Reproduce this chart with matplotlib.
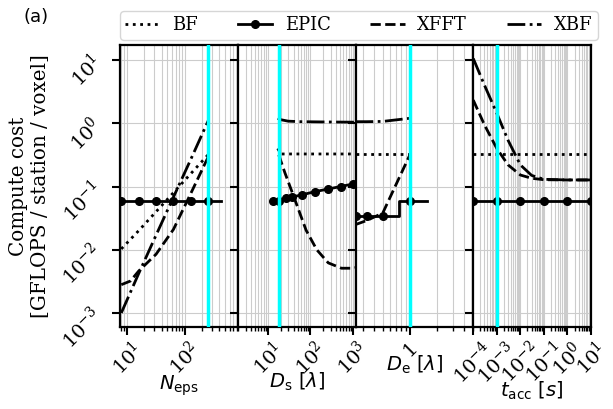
import matplotlib
matplotlib.use("Agg")
import matplotlib.pyplot as plt
from matplotlib.ticker import LogLocator, NullFormatter, NullLocator, FixedLocator, FixedFormatter

plt.rcParams['font.family'] = ['DejaVu Serif']
plt.rcParams['mathtext.fontset'] = 'dejavusans'

# ---- data ----
# panel 1: N_eps
neps_x = [8, 16, 32, 64, 128, 256]
neps_bf = [0.0103, 0.020, 0.040, 0.080, 0.16, 0.32]
neps_epic_x = [8, 16, 32, 64, 128, 256, 420]
neps_epic = [0.058, 0.058, 0.058, 0.058, 0.058, 0.058, 0.058]
neps_xfft_x = [8, 11.5, 16, 32, 64, 128, 256]
neps_xfft = [0.0028, 0.0032, 0.0046, 0.0085, 0.021, 0.078, 0.295]
neps_xbf = [0.001, 0.0042, 0.017, 0.068, 0.27, 1.1]
neps_ref = 256

# panel 2: D_s
ds_bf_x = [17, 20, 1300]
ds_bf = [0.40, 0.327, 0.327]
ds_epic_x = [13, 18, 27, 36, 64, 128, 256, 512, 1024, 1300]
ds_epic = [0.060, 0.058, 0.066, 0.068, 0.074, 0.083, 0.091, 0.10, 0.11, 0.113]
ds_xfft_x = [18, 25, 40, 79, 141, 263, 537, 1000, 1300]
ds_xfft = [0.316, 0.166, 0.071, 0.0204, 0.010, 0.0062, 0.0051, 0.0051, 0.0053]
ds_xbf_x = [17, 20, 30, 60, 200, 1300]
ds_xbf = [1.2, 1.14, 1.08, 1.06, 1.05, 1.04]
ds_ref = 18

# panel 3: D_e
de_x = [0.25, 0.333, 0.5, 1.0]
de_bf = [0.327, 0.327, 0.327, 0.327]
de_epic_x = [0.25, 0.333, 0.5, 1.0, 1.56]
de_epic = [0.0336, 0.0336, 0.0336, 0.058, 0.058]
de_xfft = [0.025, 0.029, 0.038, 0.32]
de_xbf = [1.06, 1.06, 1.07, 1.2]
de_ref = 1.0

# panel 4: t_acc
tacc_x = [1e-4, 1e-3, 1e-2, 1e-1, 1, 10]
tacc_bf = [0.327, 0.327, 0.327, 0.327, 0.327, 0.327]
tacc_epic = [0.058, 0.058, 0.058, 0.058, 0.058, 0.058]
tacc_dense_x = [1e-4, 3e-4, 1e-3, 3e-3, 1e-2, 3e-2, 1e-1, 1, 10]
tacc_xfft = [2.33, 0.94, 0.40, 0.22, 0.152, 0.135, 0.128, 0.127, 0.127]
tacc_xbf = [10.6, 4.0, 1.44, 0.54, 0.22, 0.15, 0.13, 0.127, 0.127]
tacc_ref = 1e-3

xlabels = [r'$N_\mathrm{eps}$', r'$D_\mathrm{s}\ [\lambda]$', r'$D_\mathrm{e}\ [\lambda]$', r'$t_\mathrm{acc}\ [s]$']
xlims = [(7.6, 830), (1.95, 1150), (0.25, 5.0), (1e-4, 1e1)]
label_tops = [373, 371, 354, 380]

W, H = 613, 409
fig = plt.figure(figsize=(W / 100, H / 100), dpi=100)
left, right, top, bottom = 120, 591, 45, 327
pw = (right - left) / 4

lw = 2.0
ms = 5.5
styles = dict(
    bf=dict(color='black', ls=':', lw=lw),
    epic=dict(color='black', ls='-', lw=lw, marker='o', ms=ms),
    xfft=dict(color='black', ls='--', lw=lw),
    xbf=dict(color='black', ls='-.', lw=lw),
)

axes = []
for i in range(4):
    ax = fig.add_axes([(left + i * pw) / W, 1 - bottom / H, pw / W, (bottom - top) / H])
    axes.append(ax)

panels = [
    (neps_x, neps_bf, neps_epic_x, neps_epic, neps_xfft_x, neps_xfft, neps_x, neps_xbf, neps_ref, dict(markevery=list(range(6)))),
    (ds_bf_x, ds_bf, ds_epic_x, ds_epic, ds_xfft_x, ds_xfft, ds_xbf_x, ds_xbf, ds_ref, dict(markevery=list(range(9)))),
    (de_x, de_bf, de_epic_x, de_epic, de_x, de_xfft, de_x, de_xbf, de_ref, dict(markevery=list(range(4)), drawstyle='steps-mid')),
    (tacc_x, tacc_bf, tacc_x, tacc_epic, tacc_dense_x, tacc_xfft, tacc_dense_x, tacc_xbf, tacc_ref, dict()),
]

for i, (ax, p) in enumerate(zip(axes, panels)):
    bx, by, ex, ey, fx, fy, xx, xy, ref, ekw = p
    ax.set_xscale('log')
    ax.set_yscale('log')
    l1, = ax.plot(bx, by, label='BF', **styles['bf'])
    l2, = ax.plot(ex, ey, label='EPIC', **styles['epic'], **ekw)
    l3, = ax.plot(fx, fy, label='XFFT', **styles['xfft'])
    l4, = ax.plot(xx, xy, label='XBF', **styles['xbf'])
    ax.axvline(ref, color='#00ffff', lw=2.5, zorder=5)
    ax.set_xlim(*xlims[i])
    ax.set_ylim(6.0e-4, 17.3)
    ax.yaxis.set_major_locator(LogLocator(base=10, numticks=10))
    ax.yaxis.set_minor_locator(NullLocator())
    ax.xaxis.set_minor_locator(LogLocator(base=10, subs='auto', numticks=20))
    ax.xaxis.set_minor_formatter(NullFormatter())
    ax.grid(True, which='major', axis='both', color='#cccccc', lw=0.8)
    ax.grid(True, which='minor', axis='x', color='#cccccc', lw=0.8)
    ax.set_axisbelow(True)
    for s in ax.spines.values():
        s.set_linewidth(1.6)
    ax.tick_params(which='major', length=6, width=1.5, labelsize=14, pad=2)
    ax.tick_params(which='minor', length=3, width=1.0)
    ax.tick_params(axis='x', labelrotation=45)
    ax.tick_params(axis='y', labelrotation=45, pad=4)
    ax.set_xlabel(xlabels[i], fontsize=14)
    ax.xaxis.set_label_coords(0.5, (bottom - label_tops[i]) / (bottom - top))
    if i > 0:
        ax.tick_params(axis='y', labelleft=False)

axes[2].xaxis.set_major_locator(FixedLocator([1.0]))
axes[2].xaxis.set_major_formatter(FixedFormatter(['1']))
axes[3].xaxis.set_major_locator(LogLocator(base=10, numticks=10))

axes[0].set_ylabel('Compute cost\n[GFLOPS / station / voxel]', fontsize=14.3)
axes[0].yaxis.set_label_coords(-70 / pw, 0.5)

fig.legend(handles=[l1, l2, l3, l4], loc='upper left', bbox_to_anchor=(120 / W, 1 - 11 / H),
           ncol=4, fontsize=13, handlelength=1.9, handletextpad=0.7, columnspacing=2.2,
           borderaxespad=0, frameon=True, borderpad=0.3)

fig.text(24 / W, 1 - 22 / H, '(a)', fontsize=13, family='DejaVu Sans')

fig.savefig('out.png', dpi=100)
